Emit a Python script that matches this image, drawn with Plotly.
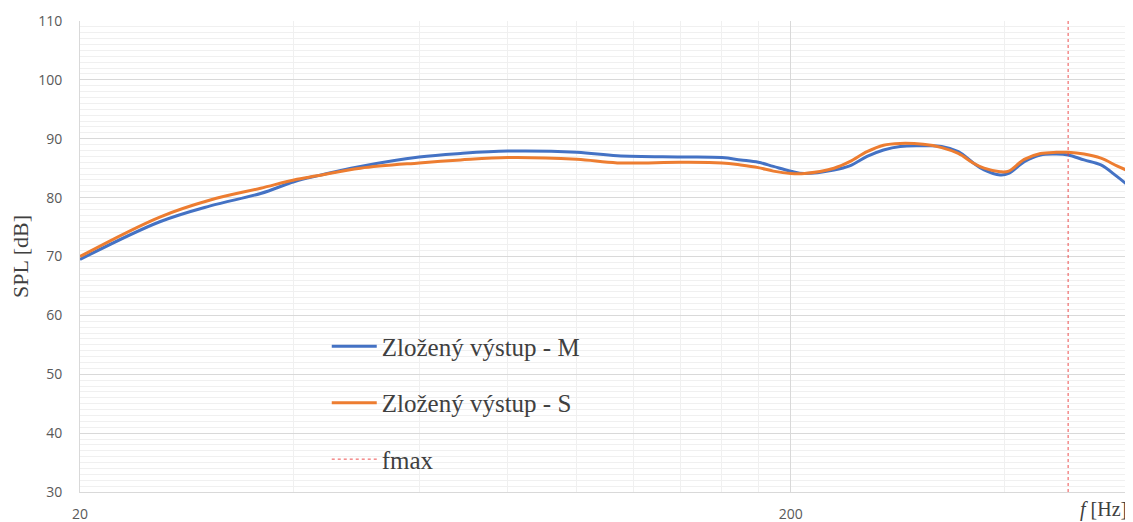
import plotly.graph_objects as go

# Frequencies (Hz) and SPL (dB)
freq_m = [20, 25.9, 30.5, 35.9, 40, 43.1, 49.6, 60, 68.6, 80, 100, 114, 140, 160, 170, 180, 189, 200, 209,
          230, 242, 256, 270, 285, 307, 326, 344, 362, 374, 394, 405, 426, 449, 473, 491, 517, 546, 575, 600]
spl_m = [69.5, 75.9, 78.6, 80.7, 82.7, 83.7, 85.3, 86.9, 87.5, 87.9, 87.7, 87.1, 86.9, 86.8, 86.4, 86.0, 85.3, 84.5, 84.1,
         84.7, 85.4, 87.0, 88.1, 88.7, 88.8, 88.7, 87.8, 85.8, 84.7, 83.85, 84.1, 86.1, 87.25, 87.4, 87.25, 86.4, 85.55, 83.6, 81.8]

freq_s = [20, 25.9, 30.5, 35.9, 40, 43.1, 49.6, 60, 68.6, 80, 100, 114, 140, 160, 170, 180, 189, 200, 209,
          230, 242, 256, 270, 285, 307, 326, 344, 362, 374, 394, 405, 426, 449, 473, 491, 517, 546, 575, 600]
spl_s = [70.0, 76.7, 79.6, 81.6, 83.0, 83.7, 85.0, 85.9, 86.4, 86.8, 86.5, 85.9, 86.0, 85.9, 85.55, 85.1, 84.5, 84.1, 84.1,
         85.0, 86.1, 87.8, 88.9, 89.2, 89.05, 88.5, 87.5, 85.8, 85.0, 84.4, 84.5, 86.5, 87.5, 87.7, 87.7, 87.4, 86.7, 85.4, 84.4]

fmax_x = [491, 491]
fmax_y = [30, 110]

x_major = [20, 200]
x_minor = [40, 60, 80, 100, 120, 140, 160, 180, 400, 600]

serif = "Liberation Serif"
sans = "Open Sans"

fig = go.Figure()
fig.add_trace(go.Scatter(x=freq_m, y=spl_m, mode="lines", name="Zložený výstup - M",
                         line=dict(color="#4472C4", width=3, shape="spline"),
                         legendgroup="m"))
fig.add_trace(go.Scatter(x=freq_s, y=spl_s, mode="lines", name="Zložený výstup - S",
                         line=dict(color="#ED7D31", width=3, shape="spline"),
                         legendgroup="s"))
fig.add_trace(go.Scatter(x=fmax_x, y=fmax_y, mode="lines", name="fmax",
                         line=dict(color="rgba(235,60,60,0.9)", width=1, dash="dot"),
                         legendgroup="f"))

fig.update_layout(
    width=1125, height=514,
    margin=dict(l=72, r=3, t=13, b=30),
    paper_bgcolor="white", plot_bgcolor="white",
    showlegend=True,
    legend=dict(x=0.235, y=0.358, xanchor="left", yanchor="top",
                font=dict(family=serif, size=25, color="#404040"),
                bgcolor="rgba(255,255,255,0)", tracegroupgap=21,
                traceorder="grouped", itemwidth=45),
    xaxis=dict(type="log", range=[1.30103, 2.77815], automargin=False,
               tickmode="array", tickvals=x_major, ticktext=["20", "200"],
               showgrid=True, gridcolor="#D9D9D9", gridwidth=1,
               minor=dict(tickmode="array", tickvals=x_minor, showgrid=True,
                          gridcolor="#F0F0F0", gridwidth=1),
               showline=True, linecolor="#D9D9D9", linewidth=1,
               ticks="", zeroline=False, ticklabelstandoff=9,
               tickfont=dict(family=sans, size=14, color="#595959")),
    yaxis=dict(range=[30, 110], dtick=10, tick0=30, automargin=False,
               showgrid=True, gridcolor="#D9D9D9", gridwidth=1,
               minor=dict(dtick=1, showgrid=True, gridcolor="#F0F0F0", gridwidth=1),
               showline=True, linecolor="#D9D9D9", linewidth=1,
               ticks="", zeroline=False, ticklabelstandoff=14,
               tickfont=dict(family=sans, size=14, color="#595959"),
               title=dict(text="SPL [dB]", font=dict(family=serif, size=22, color="#404040"),
                          standoff=4)),
)

fig.add_annotation(text="<i>f</i> [Hz]", xref="paper", yref="paper",
                   x=1.0, y=0, xanchor="right", yanchor="top", yshift=-4, xshift=-1,
                   showarrow=False,
                   font=dict(family=serif, size=20, color="#404040"))

fig.write_html("out.html")
